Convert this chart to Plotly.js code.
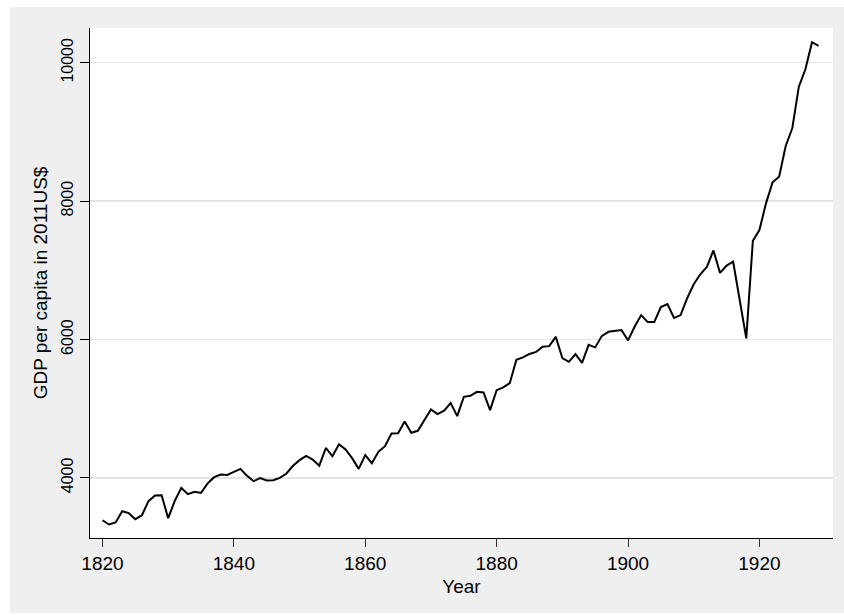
<!DOCTYPE html>
<html>
<head>
<meta charset="utf-8">
<script src="https://cdn.plot.ly/plotly-3.0.1.min.js"></script>
<style>
  html, body { margin: 0; padding: 0; background: #ffffff; }
  #chart { width: 844px; height: 615px; }
</style>
</head>
<body>
<div id="chart"></div>
<script>
const years = [
  1820,1821,1822,1823,1824,1825,1826,1827,1828,1829,
  1830,1831,1832,1833,1834,1835,1836,1837,1838,1839,
  1840,1841,1842,1843,1844,1845,1846,1847,1848,1849,
  1850,1851,1852,1853,1854,1855,1856,1857,1858,1859,
  1860,1861,1862,1863,1864,1865,1866,1867,1868,1869,
  1870,1871,1872,1873,1874,1875,1876,1877,1878,1879,
  1880,1881,1882,1883,1884,1885,1886,1887,1888,1889,
  1890,1891,1892,1893,1894,1895,1896,1897,1898,1899,
  1900,1901,1902,1903,1904,1905,1906,1907,1908,1909,
  1910,1911,1912,1913,1914,1915,1916,1917,1918,1919,
  1920,1921,1922,1923,1924,1925,1926,1927,1928,1929
];
const gdpPerCapita = [
  3388,3326,3355,3518,3490,3403,3460,3663,3745,3750,
  3417,3667,3855,3764,3798,3783,3919,4010,4049,4043,
  4087,4130,4029,3952,3996,3962,3967,4000,4063,4174,
  4256,4318,4265,4177,4432,4312,4487,4410,4285,4130,
  4328,4213,4376,4458,4642,4646,4816,4651,4680,4839,
  4989,4921,4970,5080,4892,5171,5186,5244,5234,4979,
  5268,5307,5369,5706,5741,5791,5820,5894,5904,6039,
  5731,5677,5789,5663,5923,5886,6049,6111,6126,6136,
  5987,6184,6353,6252,6252,6469,6513,6310,6353,6596,
  6798,6943,7049,7287,6963,7068,7124,6545,6016,7427,
  7582,7968,8272,8353,8797,9052,9654,9906,10296,10243
];
const xTickVals = [1820,1840,1860,1880,1900,1920];
const yTickVals = [4000,6000,8000,10000];
const xTitle = "Year";
const yTitle = "GDP per capita in 2011US$";

const FONT = "Liberation Sans, Arial, Helvetica, sans-serif";

const trace = {
  x: years,
  y: gdpPerCapita,
  type: "scatter",
  mode: "lines",
  line: { color: "#000000", width: 2 },
  hoverinfo: "x+y"
};

const layout = {
  width: 844,
  height: 615,
  margin: { l: 90, r: 11, t: 28, b: 77, pad: 0 },
  paper_bgcolor: "#efefef",
  plot_bgcolor: "#ffffff",
  showlegend: false,
  font: { family: FONT, color: "#000000" },
  shapes: [
    { type: "rect", xref: "paper", yref: "paper", x0: -0.2, x1: -0.1077, y0: -0.3, y1: 1.3,
      fillcolor: "#ffffff", line: { width: 0 }, layer: "below" },
    { type: "rect", xref: "paper", yref: "paper", x0: -0.2, x1: 1.2, y0: 1.0412, y1: 1.3,
      fillcolor: "#ffffff", line: { width: 0 }, layer: "below" },
    { type: "rect", xref: "paper", yref: "paper", x0: -0.2, x1: 1.2, y0: -0.3, y1: -0.147,
      fillcolor: "#ffffff", line: { width: 0 }, layer: "below" }
  ],
  xaxis: {
    range: [1818.1, 1931.2],
    tickvals: xTickVals,
    ticktext: xTickVals.map(String),
    ticks: "outside",
    ticklen: 8,
    tickwidth: 1,
    tickcolor: "#333333",
    tickfont: { family: FONT, size: 19, color: "#000000" },
    showline: true,
    linecolor: "#000000",
    linewidth: 1.3,
    showgrid: false,
    zeroline: false,
    title: { text: xTitle, font: { family: FONT, size: 19, color: "#000000" }, standoff: 6 }
  },
  yaxis: {
    range: [3131, 10502],
    tickvals: yTickVals,
    ticktext: yTickVals.map(String),
    tickangle: -90,
    ticks: "outside",
    ticklen: 9,
    tickwidth: 1,
    tickcolor: "#000000",
    tickfont: { family: FONT, size: 16, color: "#000000" },
    showline: true,
    linecolor: "#000000",
    linewidth: 1.3,
    showgrid: true,
    gridcolor: "#e3e3e3",
    gridwidth: 1.3,
    zeroline: false,
    title: { text: yTitle, font: { family: FONT, size: 19, color: "#000000" }, standoff: 6 }
  }
};

Plotly.newPlot("chart", [trace], layout, { displayModeBar: false, staticPlot: true });
</script>
</body>
</html>
